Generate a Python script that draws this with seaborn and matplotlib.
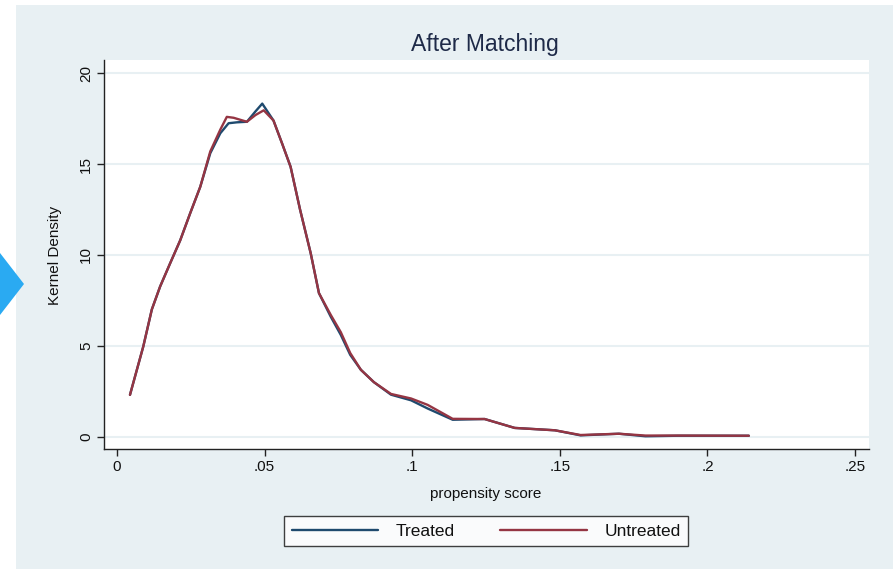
import matplotlib
matplotlib.use("Agg")
import matplotlib.pyplot as plt
from matplotlib.patches import Rectangle, Polygon
from matplotlib.lines import Line2D
import pandas as pd
import seaborn as sns

# ---- data ----
treated_x = [0.0044, 0.0089, 0.0118, 0.0146, 0.018, 0.0214, 0.0248, 0.0282, 0.0316, 0.035,
             0.0378, 0.0406, 0.044, 0.0469, 0.0492, 0.053, 0.056, 0.0588, 0.062, 0.0656,
             0.0684, 0.0724, 0.0758, 0.079, 0.0826, 0.087, 0.0928, 0.0996, 0.1052, 0.1137,
             0.1245, 0.1347, 0.1483, 0.157, 0.17, 0.179, 0.19, 0.214]
treated_y = [2.3, 4.96, 7.0, 8.26, 9.54, 10.8, 12.3, 13.75, 15.6, 16.7,
             17.25, 17.3, 17.33, 17.9, 18.33, 17.4, 16.1, 14.85, 12.5, 10.1,
             7.9, 6.6, 5.6, 4.5, 3.68, 3.0, 2.31, 2.0, 1.55, 0.93,
             0.97, 0.48, 0.35, 0.07, 0.16, 0.02, 0.05, 0.05]
untreated_x = [0.0044, 0.0089, 0.0118, 0.0146, 0.018, 0.0214, 0.0248, 0.0282, 0.0316, 0.035,
               0.0372, 0.0395, 0.044, 0.0469, 0.0497, 0.053, 0.056, 0.0588, 0.062, 0.0656,
               0.0684, 0.0724, 0.0758, 0.079, 0.0826, 0.087, 0.0928, 0.0996, 0.1052, 0.1137,
               0.1245, 0.1347, 0.1483, 0.157, 0.17, 0.179, 0.19, 0.214]
untreated_y = [2.3, 4.96, 7.0, 8.26, 9.54, 10.8, 12.3, 13.75, 15.7, 16.9,
               17.6, 17.55, 17.33, 17.7, 17.96, 17.4, 16.1, 14.85, 12.5, 10.1,
               7.9, 6.7, 5.75, 4.6, 3.68, 3.0, 2.35, 2.1, 1.75, 0.98,
               0.97, 0.48, 0.35, 0.09, 0.16, 0.06, 0.06, 0.05]
groups = ["Treated", "Untreated"]
x_ticks = [0, 0.05, 0.1, 0.15, 0.2, 0.25]
x_ticklabels = ["0", ".05", ".1", ".15", ".2", ".25"]
y_ticks = [0, 5, 10, 15, 20]

df = pd.concat([
    pd.DataFrame({"x": treated_x, "y": treated_y, "group": groups[0]}),
    pd.DataFrame({"x": untreated_x, "y": untreated_y, "group": groups[1]}),
], ignore_index=True)

colors = {"Treated": "#1f4a6e", "Untreated": "#953543"}
bg = "#e8f0f3"

sns.set_theme(style="white")
plt.rcParams["font.family"] = ["Liberation Sans", "DejaVu Sans"]

W, H = 893, 569
fig = plt.figure(figsize=(W / 100, H / 100), dpi=100)
fig.patch.set_facecolor("white")
fig.add_artist(Rectangle((16 / W, 0), 1 - 16 / W, 1 - 5 / H, transform=fig.transFigure,
                         facecolor=bg, edgecolor="none", zorder=0))
fig.add_artist(Polygon([(0, 1 - 253 / H), (24 / W, 1 - 284 / H), (0, 1 - 315 / H)],
                       closed=True, transform=fig.transFigure,
                       facecolor="#2aaaf2", edgecolor="none", zorder=1))

ax = fig.add_axes([104 / W, 1 - 449 / H, (869 - 104) / W, (449 - 60) / H])
ax.set_facecolor("white")

sns.lineplot(data=df, x="x", y="y", hue="group", palette=colors, ax=ax,
             linewidth=1.7, legend=False, sort=False, estimator=None)

ax.set_xlim(-0.0044, 0.2547)
ax.set_ylim(-0.68, 20.73)
ax.set_xticks(x_ticks)
ax.set_xticklabels(x_ticklabels, fontsize=11, color="#111111")
ax.set_yticks(y_ticks)
ax.set_yticklabels([str(v) for v in y_ticks], rotation=90, va="center",
                   fontsize=11, color="#111111")
ax.tick_params(axis="both", which="major", direction="out", length=5, width=1,
               color="#222222", left=True, bottom=True, pad=3)
ax.yaxis.grid(True, color=bg, linewidth=1.5)
ax.xaxis.grid(False)
for s in ["top", "right"]:
    ax.spines[s].set_visible(False)
for s in ["left", "bottom"]:
    ax.spines[s].set_color("#222222")
    ax.spines[s].set_linewidth(1.0)

ax.set_xlabel("")
ax.set_ylabel("")
fig.text(486 / W, 1 - 494 / H, "propensity score", ha="center", va="center",
         fontsize=11, color="#111111")
fig.text(55 / W, 1 - 255 / H, "Kernel Density", ha="center", va="center",
         rotation=90, fontsize=11, color="#111111")
fig.text(485 / W, 1 - 44 / H, "After Matching", ha="center", va="center",
         fontsize=16.5, color="#1e2a48",
         family=["Liberation Sans Narrow", "Liberation Sans", "DejaVu Sans"])

handles = [Line2D([], [], color=colors[g], linewidth=1.7) for g in groups]
leg = fig.legend(handles, groups, loc="center", bbox_to_anchor=(486 / W, 1 - 531 / H),
                 ncol=2, frameon=True, fancybox=False, fontsize=12.5,
                 handlelength=5, columnspacing=2.6, handletextpad=1,
                 borderpad=0.45)
leg.get_frame().set_edgecolor("#111111")
leg.get_frame().set_linewidth(1.0)
leg.get_frame().set_facecolor("white")
for t in leg.get_texts():
    t.set_color("#111111")

fig.savefig("out.png", dpi=100, facecolor=fig.get_facecolor())
